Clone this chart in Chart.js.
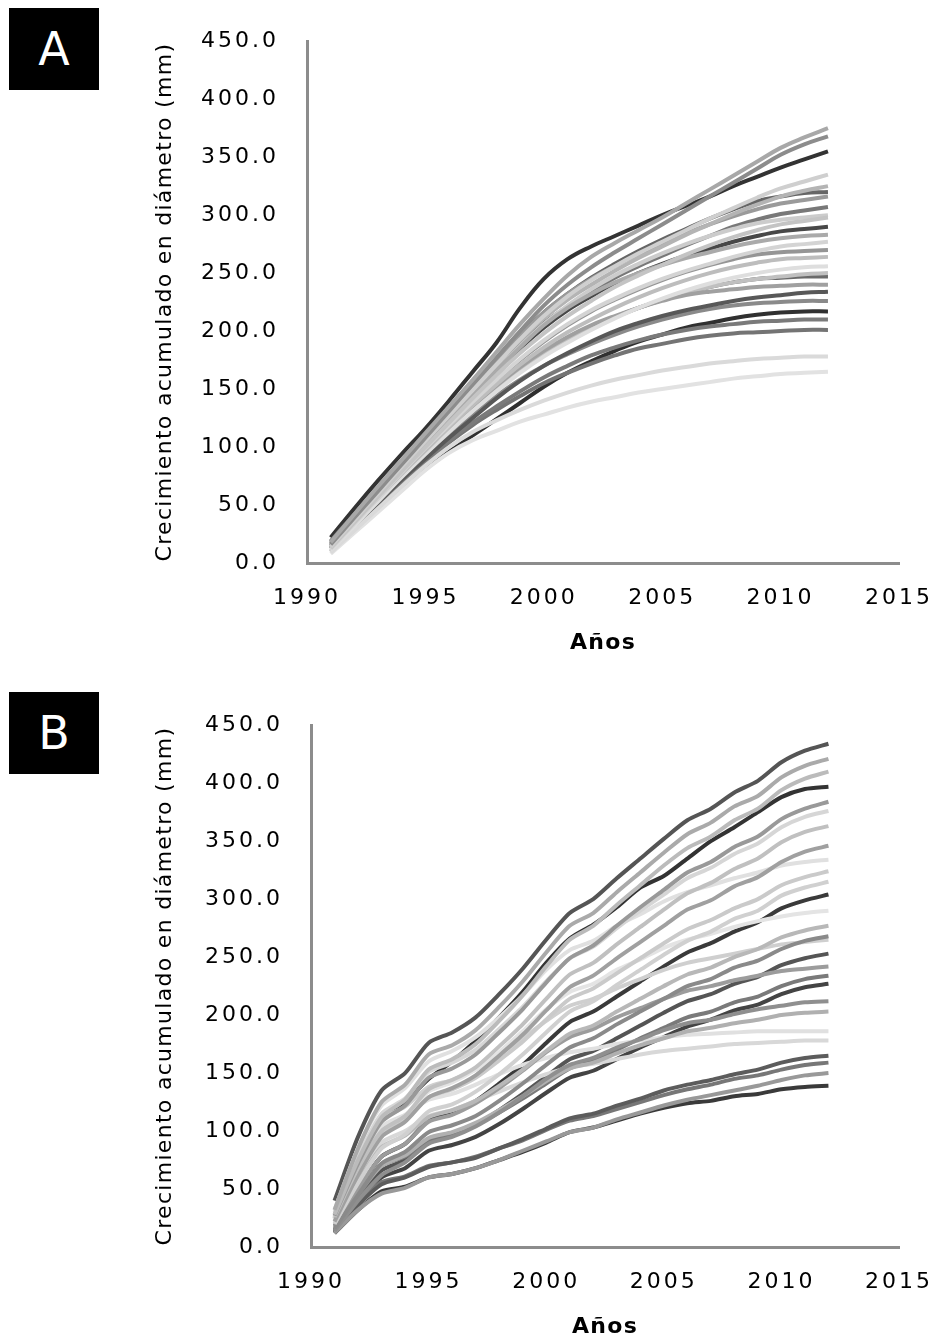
<!DOCTYPE html>
<html lang="es">
<head>
<meta charset="UTF-8">
<title>Crecimiento acumulado en diámetro</title>
<script src="https://cdn.jsdelivr.net/npm/chart.js"></script>
<style>
    body { margin: 0; background: #fff; width: 949px; height: 1340px; position: relative; overflow: hidden; }
    .panel { position: absolute; left: 0; width: 949px; height: 656px; }
    .tag {
        position: absolute; left: 9px; width: 90px; height: 82px;
        background: #000; color: #fff;
        font-family: "DejaVu Sans", sans-serif; font-size: 46px;
        display: flex; align-items: center; justify-content: center;
        z-index: 2;
    }
</style>
</head>
<body>
<div class="tag" style="top:8px">A</div>
<div class="tag" style="top:692px">B</div>
<div class="panel" style="top:0"><canvas id="chartA"></canvas></div>
<div class="panel" style="top:684px"><canvas id="chartB"></canvas></div>
<script>
// years measured (same for both panels)
const years = [1991,1992,1993,1994,1995,1996,1997,1998,1999,2000,2001,2002,2003,2004,2005,2006,2007,2008,2009,2010,2011,2012];
const xTicks = [1990, 1995, 2000, 2005, 2010, 2015];
const yTicks = [0, 50, 100, 150, 200, 250, 300, 350, 400, 450];

// Panel A - cumulative growth per tree (mm)
const a01 = [18,42,66,89,112,135,158,182,206,228,248,264,276,287,298,310,322,334,346,358,367,375];
const a02 = [16,39,62,85,108,131,154,177,200,222,240,255,268,280,292,304,316,328,340,352,361,368];
const a03 = [22,47,71,94,116,140,165,190,220,245,262,273,282,291,300,308,316,325,333,341,348,355];
const a04 = [14,37,60,83,105,127,149,171,193,213,230,244,256,267,277,287,297,306,315,323,329,335];
const a05 = [15,38,61,84,106,128,150,171,192,211,227,240,252,263,273,283,292,301,309,316,321,325];
const a06 = [17,40,63,86,108,130,152,174,196,216,232,245,256,266,275,284,292,299,305,310,313,316];
const a07 = [19,42,65,87,108,129,150,171,190,207,221,234,246,256,265,274,282,290,296,301,304,307];
const a08 = [13,35,57,79,100,121,142,162,181,198,213,226,238,248,257,266,274,281,287,292,295,298];
const a09 = [15,37,59,81,102,123,144,165,185,203,218,230,241,250,258,265,271,277,282,286,288,290];
const a10 = [17,39,61,83,104,125,146,166,186,205,220,232,242,250,257,263,268,273,277,280,282,283];
const a11 = [12,34,56,78,99,119,139,158,176,192,206,218,228,237,245,252,258,264,269,273,275,277];
const a12 = [14,35,56,77,97,117,136,154,171,186,199,210,220,229,237,244,250,255,259,262,263,264];
const a13 = [11,32,53,74,94,113,131,148,164,178,190,201,211,220,228,235,241,246,250,253,255,256];
const a14 = [13,34,55,76,95,114,132,150,166,180,192,203,212,220,227,233,238,242,245,246,247,247];
const a15 = [16,37,58,79,98,117,135,153,169,183,195,205,213,220,226,231,234,236,238,239,240,240];
const a16 = [12,32,52,72,90,108,125,142,157,170,181,191,200,207,213,218,222,226,229,231,233,234];
const a17 = [14,34,54,74,92,110,127,144,158,170,180,189,197,204,210,215,219,222,224,225,226,226];
const a18 = [10,28,46,64,81,96,110,124,138,152,164,174,183,191,197,203,207,211,214,216,217,217];
const a19 = [13,32,51,70,88,105,121,135,148,160,170,179,186,192,197,201,204,206,208,209,210,210];
const a20 = [12,31,50,69,87,104,119,132,144,155,164,172,179,185,189,193,196,198,199,200,201,201];
const a21 = [9,28,47,66,84,100,113,123,132,140,147,153,158,162,166,169,172,174,176,177,178,178];
const a22 = [8,26,44,62,80,95,106,114,122,128,134,139,143,147,150,153,156,159,161,163,164,165];
const a23 = [16,38,60,82,103,124,145,166,187,206,222,236,248,258,267,275,282,288,293,296,298,300];
const a24 = [15,36,57,78,98,118,138,157,175,191,205,217,227,236,244,251,257,262,266,268,269,270];
const a25 = [13,34,55,76,96,115,134,151,167,181,193,203,212,220,227,233,238,242,245,247,249,250];
const a26 = [18,41,64,87,109,131,153,175,197,216,232,246,258,269,279,288,297,305,312,316,319,320];
const seriesA = [a01,a02,a04,a05,a06,a08,a10,a11,a12,a13,a15,a21,a22,a23,a24,a25,a07,a14,a16,a17,a19,a20,a26,a09,a18,a03];
const colorsA = ['#a8a8a8','#8c8c8c','#cfcfcf','#b4b4b4','#9a9a9a','#c4c4c4','#aaaaaa','#d4d4d4','#bdbdbd','#dedede','#a0a0a0','#dadada','#e2e2e2','#cccccc','#959595','#c0c0c0','#787878','#6a6a6a','#585858','#8a8a8a','#7a7a7a','#747474','#666666','#484848','#303030','#333333'];

// Panel B - cumulative growth per tree (mm)
const b01 = [40,95,135,150,176,185,198,218,240,265,288,300,318,335,352,368,378,392,402,418,428,434];
const b02 = [32,85,125,140,166,174,187,207,229,254,277,288,306,323,340,356,366,380,389,405,415,421];
const b03 = [28,75,112,127,153,162,175,195,217,242,265,277,295,312,329,344,354,368,378,394,404,410];
const b04 = [25,72,110,125,145,160,178,198,220,245,266,278,293,310,320,335,350,362,375,388,395,397];
const b05 = [27,72,108,122,146,154,166,185,205,228,249,260,277,293,308,323,332,345,354,369,378,384];
const b06 = [30,78,115,128,151,159,170,188,207,229,249,259,275,290,304,318,327,339,348,362,371,376];
const b07 = [26,68,100,113,136,144,155,173,192,214,235,245,261,276,291,305,314,326,335,349,358,363];
const b08 = [22,62,95,108,129,137,148,165,183,204,224,234,249,263,277,291,299,311,319,332,341,346];
const b09 = [32,85,122,137,160,169,181,198,217,239,256,264,277,287,298,306,312,318,323,329,332,334];
const b10 = [24,66,98,109,129,136,146,161,177,196,214,223,236,249,262,274,282,292,300,312,319,324];
const b11 = [20,55,85,97,117,123,134,149,166,185,203,212,226,239,252,264,272,283,290,303,310,315];
const b12 = [18,50,78,89,109,116,126,141,157,176,194,203,216,229,242,254,262,272,280,292,299,304];
const b13 = [25,68,100,113,134,142,153,168,186,205,220,227,239,248,258,265,270,276,281,285,288,290];
const b14 = [20,56,86,96,112,118,126,139,153,169,184,191,203,214,225,235,241,250,257,267,273,277];
const b15 = [16,45,72,82,99,105,113,126,141,157,172,180,192,203,214,225,231,241,247,257,264,268];
const b16 = [14,42,66,75,92,97,105,118,132,147,162,169,180,191,202,212,218,227,233,243,249,253];
const b17 = [18,50,78,89,108,114,124,137,152,168,181,188,198,206,214,221,225,230,234,238,240,242];
const b18 = [15,44,70,78,92,97,105,116,128,141,154,161,170,180,189,198,203,211,216,225,231,234];
const b19 = [12,38,60,68,83,88,95,106,119,133,146,152,162,172,181,190,196,204,209,218,224,227];
const b20 = [14,40,62,73,89,95,104,116,130,145,157,163,172,179,187,193,196,201,205,208,211,212];
const b21 = [16,46,70,79,94,99,107,118,130,143,154,159,167,174,180,186,189,193,196,200,202,203];
const b22 = [28,72,104,114,127,132,140,149,157,163,168,171,175,178,181,183,184,185,186,186,186,186];
const b23 = [22,60,90,100,113,118,126,134,142,149,155,158,162,166,169,171,173,175,176,177,178,178];
const b24 = [13,36,54,60,69,73,77,85,93,102,111,115,122,128,135,140,144,149,153,159,163,165];
const b25 = [14,38,56,61,70,73,78,85,92,101,109,113,119,125,131,136,140,145,148,153,157,159];
const b26 = [12,32,48,52,60,63,68,75,82,90,99,103,109,115,120,124,126,130,132,136,138,139];
const b27 = [12,32,46,51,60,63,68,75,83,91,99,103,110,116,122,127,131,135,139,144,148,150];
const b28 = [26,72,110,121,138,144,153,166,180,195,208,214,223,231,239,245,249,253,257,261,263,265];
const seriesB = [b02,b03,b05,b06,b07,b08,b09,b10,b11,b13,b14,b15,b17,b20,b21,b22,b23,b27,b28,b18,b24,b25,b16,b12,b19,b26,b04,b01];
const colorsB = ['#aaaaaa','#bbbbbb','#999999','#d6d6d6','#c0c0c0','#a0a0a0','#e0e0e0','#cacaca','#d0d0d0','#e4e4e4','#b8b8b8','#8a8a8a','#9c9c9c','#8f8f8f','#b0b0b0','#e0e0e0','#d8d8d8','#999999','#cfcfcf','#7a7a7a','#5c5c5c','#777777','#555555','#3a3a3a','#444444','#3a3a3a','#333333','#555555'];

const fontFamily = '"DejaVu Sans", Verdana, sans-serif';

// wider tick text, tighter axis titles
const spacing = {
    id: 'spacing',
    beforeDraw(chart) {
        chart.ctx.letterSpacing = '3px';
        Object.values(chart.scales).forEach(scale => {
            if (scale._spaced) return;
            const drawTitle = scale.drawTitle.bind(scale);
            scale.drawTitle = function () {
                this.ctx.letterSpacing = '1.3px';
                drawTitle();
                this.ctx.letterSpacing = '3px';
            };
            scale._spaced = true;
        });
    },
    afterDraw(chart) { chart.ctx.letterSpacing = '0px'; }
};

function makeChart(id, series, colors, leftEdge, tension) {
    const datasets = series.map((vals, i) => ({
        data: years.map((yr, j) => ({ x: yr, y: vals[j] })),
        borderColor: colors[i],
        borderWidth: 4,
        pointRadius: 0,
        tension: tension,
        fill: false
    }));

    new Chart(document.getElementById(id), {
        type: 'line',
        data: { datasets: datasets },
        plugins: [spacing],
        options: {
            responsive: true,
            maintainAspectRatio: false,
            animation: false,
            events: [],
            layout: { padding: { left: 152, right: 36, top: 40, bottom: 0 } },
            plugins: { legend: { display: false }, tooltip: { enabled: false } },
            scales: {
                x: {
                    type: 'linear',
                    min: 1990,
                    max: 2015,
                    afterBuildTicks: axis => { axis.ticks = xTicks.map(v => ({ value: v })); },
                    afterFit: axis => { axis.height = 93; },
                    grid: { display: false, drawTicks: false },
                    border: { display: true, color: '#8c8c8c', width: 3 },
                    ticks: {
                        padding: 22,
                        color: '#000',
                        font: { family: fontFamily, size: 22 },
                        callback: v => String(v)
                    },
                    title: {
                        display: true,
                        text: 'Años',
                        color: '#000',
                        padding: 0,
                        font: { family: fontFamily, size: 22, weight: 'bold' }
                    }
                },
                y: {
                    min: 0,
                    max: 450,
                    afterBuildTicks: axis => { axis.ticks = yTicks.map(v => ({ value: v })); },
                    afterFit: axis => { axis.width = leftEdge - 152; },
                    grid: { display: false, drawTicks: false },
                    border: { display: true, color: '#8c8c8c', width: 3 },
                    ticks: {
                        padding: 28,
                        color: '#000',
                        font: { family: fontFamily, size: 22 },
                        callback: v => v.toFixed(1)
                    },
                    title: {
                        display: true,
                        text: 'Crecimiento acumulado en diámetro (mm)',
                        color: '#000',
                        padding: 0,
                        font: { family: fontFamily, size: 22 }
                    }
                }
            }
        }
    });
}

makeChart('chartA', seriesA, colorsA, 307, 0.4);
makeChart('chartB', seriesB, colorsB, 311, 0.25);
</script>
</body>
</html>
